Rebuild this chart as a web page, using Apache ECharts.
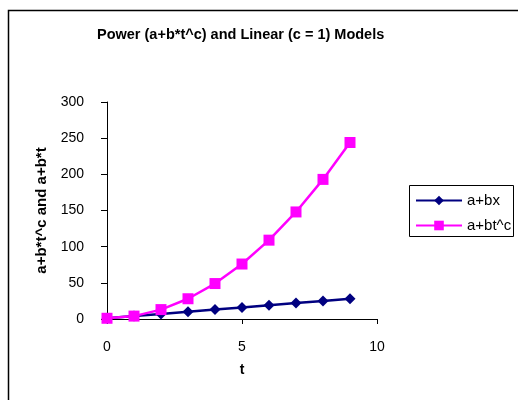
<!DOCTYPE html>
<html><head><meta charset="utf-8">
<script src="https://cdn.jsdelivr.net/npm/echarts@6/dist/echarts.min.js"></script>
<style>html,body{margin:0;padding:0;background:#fff}#c{width:518px;height:400px}</style>
</head><body><div id="c"></div>
<script>
var tValues = [0, 1, 2, 3, 4, 5, 6, 7, 8, 9];
var linearValues = [1, 4, 7, 10, 13, 16, 19, 22, 25, 28];
var powerValues = [1, 4, 13, 28, 49, 76, 109, 148, 193, 244];
var seriesNames = ['a+bx', 'a+bt^c'];
var titleText = 'Power (a+b*t^c) and Linear (c = 1) Models';
var xName = 't';
var yName = 'a+b*t^c and a+b*t';

function pairs(vals){ return tValues.map(function(t,i){ return [t, vals[i]]; }); }
var font = 'Arial, "Liberation Sans", sans-serif';
var chart = echarts.init(document.getElementById('c'), null, {renderer:'canvas'});
chart.setOption({
  animation:false,
  backgroundColor:'#fff',
  title:{text:titleText, left:92, top:22, textStyle:{fontFamily:font, fontSize:14.5, fontWeight:'bold', color:'#000'}},
  grid:{left:107, right:141, top:102, bottom:81},
  xAxis:{type:'value', min:0, max:10, interval:5, name:xName, nameLocation:'middle', nameGap:44,
    nameTextStyle:{fontFamily:font, fontSize:14, fontWeight:'bold', color:'#000'},
    axisLine:{onZero:false, lineStyle:{color:'#000', width:1}},
    axisTick:{show:true, inside:false, length:5, lineStyle:{color:'#000'}},
    axisLabel:{margin:21, fontFamily:font, fontSize:14, color:'#000'},
    splitLine:{show:false}},
  yAxis:{type:'value', min:0, max:300, interval:50, name:yName, nameLocation:'middle', nameGap:36,
    nameTextStyle:{fontFamily:font, fontSize:15, fontWeight:'bold', color:'#000'},
    axisLine:{show:true, lineStyle:{color:'#000', width:1}},
    axisTick:{show:true, inside:false, length:6, lineStyle:{color:'#000'}},
    axisLabel:{margin:23, fontFamily:font, fontSize:14, color:'#000'},
    splitLine:{show:false}},
  legend:{orient:'vertical', left:410, top:188, itemWidth:46, itemHeight:12, itemGap:10,
    textStyle:{fontFamily:font, fontSize:15, color:'#000'},
    data:[seriesNames[0], seriesNames[1]]},
  graphic:[
    {type:'rect', shape:{x:8.5, y:10.5, width:600, height:500}, style:{fill:null, stroke:'#000', lineWidth:1.5}, silent:true},
    {type:'rect', shape:{x:409.5, y:185.5, width:104, height:51}, style:{fill:null, stroke:'#000', lineWidth:1}, silent:true}
  ],
  series:[
    {name:seriesNames[0], type:'line', data:pairs(linearValues), symbol:'diamond', symbolSize:11,
      lineStyle:{color:'#000080', width:2.5}, itemStyle:{color:'#000080'}},
    {name:seriesNames[1], type:'line', data:pairs(powerValues), symbol:'rect', symbolSize:11,
      lineStyle:{color:'#FF00FF', width:2.5}, itemStyle:{color:'#FF00FF'}}
  ]
});
</script></body></html>
